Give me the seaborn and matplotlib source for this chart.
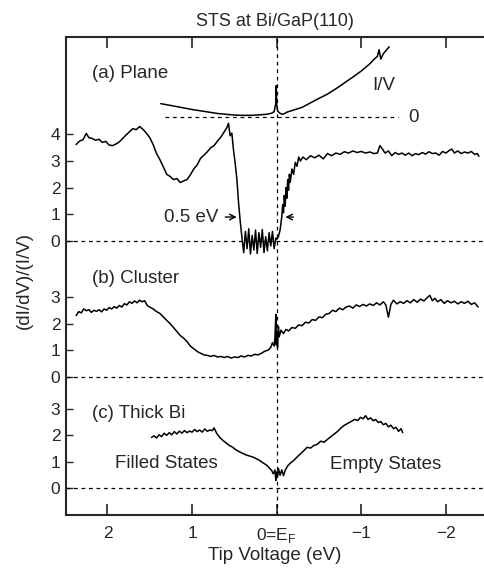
import matplotlib
matplotlib.use("Agg")
import matplotlib.pyplot as plt
import pandas as pd
import seaborn as sns

# ----------------------------------------
# data (tip voltage in eV, normalised conductance)
# ----------------------------------------
plane_x = [2.37, 2.33, 2.29, 2.25, 2.22, 2.18, 2.14, 2.10, 2.06, 2.02, 1.98, 1.94, 1.90, 1.86,
           1.82, 1.78, 1.74, 1.70, 1.66, 1.62, 1.58, 1.54, 1.50, 1.46, 1.42, 1.38, 1.34, 1.30,
           1.26, 1.22, 1.18, 1.14, 1.10, 1.06, 1.02, 0.98, 0.94, 0.90, 0.86, 0.82, 0.78, 0.74,
           0.70, 0.66, 0.62, 0.59, 0.57, 0.55, 0.53, 0.51, 0.49, 0.47, 0.45, 0.43, 0.41,
           0.39, 0.37, 0.35, 0.33, 0.31, 0.29, 0.27, 0.25, 0.23, 0.21, 0.19, 0.17, 0.15, 0.13,
           0.11, 0.09, 0.07, 0.05, 0.03, 0.01,
           0.00, -0.02, -0.04, -0.06, -0.07, -0.08, -0.09, -0.10, -0.11, -0.12, -0.13, -0.14,
           -0.15, -0.16, -0.18, -0.20, -0.22, -0.24, -0.26, -0.28, -0.31, -0.35, -0.40, -0.45,
           -0.50, -0.55, -0.60, -0.65, -0.70, -0.75, -0.80, -0.85, -0.90, -0.95, -1.00, -1.05,
           -1.10, -1.15, -1.19, -1.22, -1.25, -1.28, -1.32, -1.36, -1.40, -1.44, -1.48, -1.52,
           -1.56, -1.60, -1.64, -1.68, -1.72, -1.76, -1.80, -1.84, -1.88, -1.92, -1.96, -2.00,
           -2.04, -2.07, -2.10, -2.14, -2.18, -2.22, -2.26, -2.30, -2.34, -2.37, -2.39]
plane_y = [3.62, 3.75, 3.80, 4.04, 3.88, 3.85, 3.78, 3.82, 3.70, 3.74, 3.60, 3.58, 3.64, 3.72,
           3.85, 3.98, 4.10, 4.22, 4.18, 4.30, 4.19, 4.05, 3.88, 3.62, 3.28, 3.05, 2.78, 2.50,
           2.42, 2.30, 2.34, 2.19, 2.25, 2.30, 2.48, 2.70, 2.85, 3.10, 3.22, 3.35, 3.50, 3.58,
           3.75, 3.90, 4.10, 4.25, 4.42, 3.95, 4.05, 3.40, 2.90, 2.30, 1.40, 0.70, 0.10,
           -0.45, 0.35, -0.30, 0.45, -0.50, 0.20, -0.35, 0.40, -0.48, 0.30, -0.25, 0.42, -0.45,
           0.15, -0.38, 0.30, -0.20, 0.35, -0.30, 0.10,
           0.05, 0.15, 0.40, 0.90, 1.35, 1.05, 1.70, 1.30, 2.00, 1.60, 2.30, 1.90,
           2.50, 2.20, 2.70, 2.50, 2.95, 2.80, 3.15, 3.00, 3.15, 3.05, 3.20, 3.12,
           3.22, 3.08, 3.28, 3.20, 3.30, 3.25, 3.35, 3.30, 3.38, 3.32, 3.36, 3.30,
           3.34, 3.28, 3.30, 3.58, 3.45, 3.30, 3.38, 3.20, 3.32, 3.25, 3.30, 3.22,
           3.30, 3.20, 3.28, 3.24, 3.32, 3.26, 3.35, 3.28, 3.30, 3.22, 3.36, 3.30,
           3.40, 3.45, 3.30, 3.38, 3.28, 3.34, 3.30, 3.36, 3.25, 3.28, 3.18]

iv_x = [1.37, 1.30, 1.20, 1.10, 1.00, 0.90, 0.80, 0.70, 0.60, 0.50, 0.40, 0.30, 0.20, 0.12,
        0.06, 0.03, 0.01, 0.005, 0.0, -0.01, -0.03, -0.06, -0.09, -0.12, -0.20, -0.30, -0.40,
        -0.50, -0.60, -0.70, -0.80, -0.90, -1.00, -1.10, -1.16, -1.19, -1.21, -1.23, -1.26,
        -1.30, -1.33]
iv_y = [0.52, 0.48, 0.42, 0.36, 0.30, 0.25, 0.20, 0.15, 0.12, 0.09, 0.08, 0.08, 0.10, 0.12,
        0.16, 0.22, 0.55, 1.20, 0.50, 0.25, 0.18, 0.12, 0.14, 0.20, 0.28, 0.38, 0.55,
        0.72, 0.88, 1.08, 1.30, 1.52, 1.75, 2.02, 2.22, 2.30, 2.55, 2.20, 2.40,
        2.55, 2.66]

cluster_x = [2.37, 2.34, 2.31, 2.28, 2.25, 2.22, 2.19, 2.16, 2.13, 2.10, 2.07, 2.04, 2.01, 1.98,
             1.95, 1.92, 1.89, 1.86, 1.83, 1.80, 1.77, 1.74, 1.71, 1.68, 1.65, 1.62, 1.59, 1.56,
             1.53, 1.50, 1.46, 1.42, 1.38, 1.34, 1.30, 1.26, 1.22, 1.18, 1.14, 1.10, 1.06, 1.02,
             0.98, 0.94, 0.90, 0.86, 0.82, 0.78, 0.74, 0.70, 0.66, 0.62, 0.58, 0.54, 0.50, 0.46,
             0.42, 0.38, 0.34, 0.30, 0.26, 0.22, 0.18, 0.14, 0.10, 0.07, 0.05, 0.03, 0.02, 0.01,
             0.005, 0.0, -0.01, -0.02, -0.03, -0.05, -0.08, -0.11, -0.14, -0.18, -0.22, -0.26,
             -0.30, -0.34, -0.38, -0.42, -0.46, -0.50, -0.54, -0.58, -0.62, -0.66, -0.70, -0.74,
             -0.78, -0.82, -0.86, -0.90, -0.94, -0.98, -1.02, -1.06, -1.10, -1.14, -1.18, -1.22,
             -1.26, -1.29, -1.32, -1.35, -1.38, -1.42, -1.46, -1.50, -1.54, -1.58, -1.62, -1.66,
             -1.70, -1.74, -1.78, -1.81, -1.84, -1.87, -1.90, -1.94, -1.98, -2.02, -2.06, -2.10,
             -2.14, -2.18, -2.22, -2.26, -2.30, -2.34, -2.38]
cluster_y = [2.30, 2.45, 2.40, 2.55, 2.48, 2.52, 2.42, 2.50, 2.46, 2.52, 2.44, 2.55, 2.50, 2.60,
             2.55, 2.64, 2.58, 2.68, 2.62, 2.75, 2.70, 2.82, 2.76, 2.85, 2.78, 2.88, 2.82, 2.86,
             2.68, 2.62, 2.55, 2.45, 2.38, 2.25, 2.12, 2.00, 1.85, 1.70, 1.55, 1.45, 1.32, 1.15,
             1.05, 0.95, 0.88, 0.82, 0.80, 0.76, 0.80, 0.74, 0.76, 0.72, 0.76, 0.70, 0.74, 0.72,
             0.78, 0.74, 0.80, 0.78, 0.84, 0.82, 0.88, 0.96, 1.00, 1.10, 1.28, 1.15, 1.50, 2.35,
             1.20, 1.70, 1.10, 1.90, 1.50, 1.75, 1.62, 1.78, 1.72, 1.85, 1.82, 1.95,
             1.92, 2.05, 2.02, 2.15, 2.12, 2.25, 2.22, 2.35, 2.38, 2.50, 2.45, 2.58,
             2.52, 2.62, 2.66, 2.58, 2.70, 2.64, 2.72, 2.66, 2.74, 2.68, 2.78, 2.70,
             2.82, 2.70, 2.24, 2.72, 2.88, 2.74, 2.82, 2.76, 2.86, 2.78, 2.90, 2.80,
             2.92, 2.85, 2.98, 3.06, 2.86, 2.95, 2.82, 2.90, 2.76, 2.86, 2.78, 2.84,
             2.74, 2.82, 2.76, 2.84, 2.72, 2.78, 2.62]

thick_x = [1.48, 1.45, 1.42, 1.39, 1.36, 1.33, 1.30, 1.27, 1.24, 1.21, 1.18, 1.15, 1.12, 1.09,
           1.06, 1.03, 1.00, 0.97, 0.94, 0.91, 0.88, 0.85, 0.82, 0.79, 0.76, 0.74, 0.71, 0.68,
           0.64, 0.60, 0.56, 0.52, 0.48, 0.44, 0.40, 0.36, 0.32, 0.28, 0.24, 0.20, 0.16, 0.12,
           0.09, 0.06, 0.04, 0.02, 0.01, 0.0, -0.01, -0.02, -0.04, -0.06, -0.08, -0.10, -0.13,
           -0.16, -0.20, -0.24, -0.28, -0.32, -0.36, -0.40, -0.44, -0.48, -0.52, -0.56, -0.60,
           -0.64, -0.68, -0.72, -0.76, -0.80, -0.84, -0.88, -0.92, -0.96, -0.99, -1.02, -1.05,
           -1.08, -1.11, -1.14, -1.17, -1.20, -1.23, -1.26, -1.29, -1.32, -1.35, -1.38, -1.41,
           -1.44, -1.47, -1.49]
thick_y = [1.92, 1.98, 1.90, 2.02, 1.95, 2.08, 2.00, 2.10, 2.02, 2.14, 2.05, 2.16, 2.08, 2.18,
           2.10, 2.16, 2.12, 2.22, 2.14, 2.20, 2.12, 2.24, 2.15, 2.20, 2.18, 2.28, 2.08, 1.95,
           1.82, 1.72, 1.62, 1.55, 1.45, 1.38, 1.32, 1.26, 1.22, 1.18, 1.12, 1.05, 0.96, 0.88,
           0.78, 0.68, 0.55, 0.70, 0.30, 0.62, 0.45, 0.75, 0.50, 0.70, 0.48, 0.68, 0.85,
           0.95, 1.05, 1.18, 1.30, 1.42, 1.55, 1.52, 1.62, 1.66, 1.78, 1.74, 1.85,
           1.95, 2.05, 2.15, 2.28, 2.38, 2.45, 2.52, 2.60, 2.56, 2.68, 2.62, 2.74,
           2.60, 2.66, 2.55, 2.60, 2.48, 2.52, 2.40, 2.45, 2.32, 2.38, 2.25, 2.30,
           2.15, 2.25, 2.10]

# vertical offsets of each panel's zero line
offsets = {"thick": 0.0, "cluster": 4.21, "plane": 9.33, "iv": 13.97}
tick_vals = {"thick": [0, 1, 2, 3], "cluster": [0, 1, 2, 3], "plane": [0, 1, 2, 3, 4]}

x_ticks = [2, 1, 0, -1, -2]
x_labels = ["2", "1", "0=E$_\\mathrm{F}$", "\u22121", "\u22122"]

# ----------------------------------------
# plot
# ----------------------------------------
sns.set_style("ticks")
plt.rcParams["font.family"] = ["Liberation Sans", "DejaVu Sans"]
plt.rcParams["mathtext.fontset"] = "custom"
plt.rcParams["mathtext.rm"] = "Liberation Sans"

fig = plt.figure(figsize=(4.84, 5.71), dpi=100)
ax = fig.add_axes([66 / 484, 56 / 571, 418 / 484, 478 / 571])

traces = [("plane", plane_x, plane_y), ("iv", iv_x, iv_y),
          ("cluster", cluster_x, cluster_y), ("thick", thick_x, thick_y)]
for name, xs, ys in traces:
    df = pd.DataFrame({"V": xs, "y": [v + offsets[name] for v in ys]})
    sns.lineplot(data=df, x="V", y="y", ax=ax, color="black", lw=1.1,
                 estimator=None, sort=False)

dash = (0, (3, 3))
for name in ["plane", "cluster", "thick"]:
    ax.axhline(offsets[name], color="black", lw=0.9, ls=dash)
ax.plot([1.32, -1.43], [offsets["iv"], offsets["iv"]], color="black", lw=0.9, ls=dash)
ax.axvline(0, color="black", lw=0.9, ls=dash)

ax.set_xlim(2.49, -2.45)
ax.set_ylim(-1.0, 17.0)

yt, yl = [], []
for name in ["thick", "cluster", "plane"]:
    for v in tick_vals[name]:
        yt.append(v + offsets[name])
        yl.append(str(v))
ax.set_yticks(yt)
ax.set_yticklabels(yl, fontsize=12.5)
ax.set_xticks(x_ticks)
ax.set_xticklabels(x_labels, fontsize=12.5)
ax.tick_params(axis="x", direction="in", length=8, width=1.2, top=True, pad=8)
ax.tick_params(axis="y", direction="in", length=5, width=1.0, pad=4)

for s in ["left", "top", "bottom"]:
    ax.spines[s].set_linewidth(1.5)
ax.spines["right"].set_visible(False)

ax.set_title("STS at Bi/GaP(110)", fontsize=13, pad=8)
ax.set_xlabel("Tip Voltage (eV)", fontsize=13.5, labelpad=1)
ax.set_ylabel("(dI/dV)/(I/V)", fontsize=13.5)
ax.yaxis.set_label_coords(-0.08, 0.49)

fs = 13.5
ax.text(2.18, 15.63, "(a) Plane", fontsize=fs, va="center")
ax.text(2.18, 7.9, "(b) Cluster", fontsize=fs, va="center")
ax.text(2.18, 2.81, "(c) Thick Bi", fontsize=fs, va="center")
ax.text(1.30, 0.93, "Filled States", fontsize=fs, va="center", ha="center")
ax.text(-1.29, 0.90, "Empty States", fontsize=fs, va="center", ha="center")
ax.text(-1.26, 15.18, "I/V", fontsize=fs, va="center", ha="center")
ax.text(-1.55, offsets["iv"], "0", fontsize=fs, va="center", ha="left")
ax.text(0.69, 10.22, "0.5 eV", fontsize=fs, va="center", ha="right")
ax.annotate("", xy=(0.44, 10.22), xytext=(0.64, 10.22),
            arrowprops=dict(arrowstyle="->", lw=1.0, color="black"))
ax.annotate("", xy=(-0.07, 10.22), xytext=(-0.23, 10.22),
            arrowprops=dict(arrowstyle="->", lw=1.0, color="black"))

plt.savefig("out.png", dpi=100)
